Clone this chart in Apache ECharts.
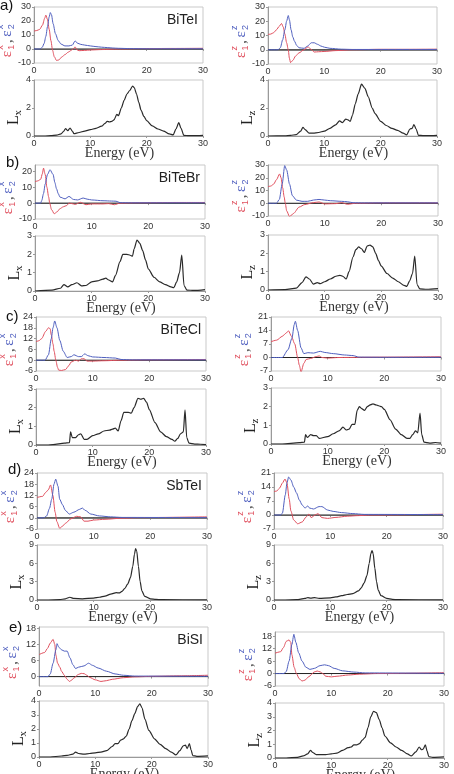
<!DOCTYPE html>
<html><head><meta charset="utf-8">
<script src="https://cdn.jsdelivr.net/npm/echarts@6/dist/echarts.min.js"></script>
<style>html,body{margin:0;padding:0;background:#fff}#c{width:454px;height:774px}</style>
</head><body><div id="c"></div>
<script>
// ---------------- DATA ----------------
const materials = ['BiTeI','BiTeBr','BiTeCl','SbTeI','BiSI'];
const rowLetters = ['a)','b)','c)','d)','e)'];
const energyTicks = [0,10,20,30];

const aX_e1 = [[0,12.8],[0.5,13.2],[1,14],[1.5,17],[1.9,22],[2.1,24.2],[2.4,21],[2.7,14],[3.0,6],[3.3,-1],[3.6,-5.5],[4.0,-8.2],[4.4,-7.8],[5.0,-5.5],[5.5,-4],[6.1,-2.2],[6.6,-1],[7.0,0.3],[7.3,1.5],[7.6,-0.5],[8,-1.2],[9,-1],[10,-0.7],[12,-0.4],[15,0],[20,0.3],[25,0.4],[30,0.5]];
const aX_e2 = [[0,0],[1,0],[1.2,0.3],[1.5,1.5],[1.8,4],[2.1,9],[2.4,16],[2.7,23],[2.9,26],[3.1,24.5],[3.4,18],[3.8,11],[4.3,6],[4.8,3.5],[5.5,2.2],[6.2,2.2],[6.8,2.8],[7.3,5.8],[7.7,4.2],[8.3,3.3],[9,2.8],[10,2.2],[11,1.7],[12,1.3],[13,1],[14,0.7],[15,0.5],[17,0.3],[20,0.2],[30,0.2]];
const aX_L = [[0,0],[2,0],[3,0.02],[4,0.06],[4.8,0.15],[5.3,0.35],[5.6,0.53],[6.0,0.38],[6.4,0.57],[6.8,0.35],[7.1,0.17],[8,0.25],[9,0.35],[10,0.45],[11,0.55],[12,0.7],[12.6,0.9],[13,1.05],[13.4,1.0],[13.8,1.05],[14.2,1.15],[14.7,1.55],[15,1.45],[15.5,2.0],[16,2.55],[16.5,3.0],[17,3.25],[17.5,3.57],[17.8,3.45],[18.2,3.0],[18.6,2.4],[19,1.85],[19.5,1.4],[20,1.1],[21,0.72],[22,0.5],[23,0.35],[24,0.15],[24.7,0.08],[25.2,0.5],[25.7,0.95],[26.1,0.55],[26.6,0.05],[27.5,0.02],[29,0.02],[30,0.05]];

const aZ_e1 = [[0,10.7],[0.5,11],[1,12],[1.5,14],[2,16.5],[2.4,18.4],[2.7,16],[3.0,11],[3.3,5],[3.6,0],[3.8,-6],[4.0,-9],[4.4,-7.5],[4.9,-4.4],[5.5,-2.2],[6.4,0],[7.1,2],[7.6,0.5],[8.2,-1.6],[9,-1.4],[10,-1.2],[12,-0.6],[15,0],[20,0.3],[25,0.3],[30,0.4]];
const aZ_e2 = [[0,0],[1.8,0],[2.2,1.5],[2.6,7],[3.0,14],[3.3,20],[3.6,24],[3.8,21],[4.1,14],[4.4,9],[4.7,6],[5.1,3],[5.5,1.4],[6.4,1],[7.0,2.5],[7.7,4.9],[8.2,4.9],[8.8,3.8],[9.4,2.6],[10,1.8],[11,1],[13,0.4],[15,0.2],[30,0.2]];
const aZ_L = [[0,0],[3,0.01],[4,0.04],[5,0.1],[5.8,0.35],[6.2,0.62],[6.6,0.45],[7.3,0.2],[8,0.2],[9,0.25],[10,0.35],[11,0.55],[12,0.8],[12.7,1.08],[13.2,0.95],[13.8,1.2],[14.2,1.15],[14.6,1.05],[15,1.5],[15.5,2.3],[16,3.0],[16.6,3.7],[17.2,3.4],[17.8,2.8],[18.5,2.0],[19,1.6],[20,1.05],[21,0.75],[22,0.55],[23,0.4],[24,0.2],[24.6,0.08],[25.2,0.5],[25.6,0.55],[25.9,0.82],[26.3,0.5],[26.7,0.05],[27.5,0.03],[29,0.03],[30,0.05]];

const bX_e1 = [[0,13.5],[0.5,14],[1,15],[1.3,18.5],[1.5,22],[1.8,18],[2.1,10],[2.4,4],[2.6,0],[2.9,-4],[3.4,-6.7],[3.9,-5.5],[4.4,-3.5],[5,-2.3],[5.6,-1.5],[6,0],[6.5,-0.3],[7.1,-0.8],[8,0.5],[9,-1],[10,-0.5],[12,-0.5],[13,-0.3],[14,-1],[15,0],[18,0.2],[25,0.4],[30,0.4]];
const bX_e2 = [[0,0],[1,0],[1.2,1.7],[1.5,6],[1.8,12],[2.2,18],[2.65,21],[3.2,18],[3.5,13],[3.8,9],[4.1,6],[4.4,3.8],[5.3,2.7],[6.0,4.2],[6.8,2.3],[7.5,2],[8.5,3.2],[9.2,2.5],[10,2],[12,1.5],[13.5,1.3],[14.3,1.2],[15,0.3],[17,0.2],[30,0.2]];
const bX_L = [[0,0],[3,0.05],[4.5,0.15],[5.1,0.35],[5.8,0.22],[6.5,0.35],[7.4,0.45],[8.2,0.28],[9,0.3],[10,0.5],[11,0.55],[12,0.65],[12.5,0.7],[13,0.6],[13.7,0.5],[14.2,0.85],[15,1.6],[15.5,2.0],[16.2,2.0],[16.8,1.95],[17.2,1.9],[17.5,2.3],[18,2.78],[18.5,2.6],[19,2.2],[19.5,1.7],[20,1.2],[21,0.75],[22,0.5],[23,0.35],[24,0.22],[24.5,0.18],[25,0.5],[25.5,1.0],[25.9,1.96],[26.3,0.3],[26.8,0.05],[28,0.03],[30,0.08]];

const bZ_e1 = [[0,13],[0.5,13.5],[1,15],[1.5,18.5],[2.05,23],[2.3,20],[2.6,12],[2.85,5],[3.05,0],[3.3,-6],[3.8,-10.5],[4.5,-8],[5.5,-3],[6.5,-1],[8,0.5],[9,1],[10,-0.5],[12,-0.3],[13,0.5],[14,-0.8],[15.5,0],[20,0.3],[30,0.3]];
const bZ_e2 = [[0,0],[1.5,0],[2,3],[2.5,15],[2.95,29.5],[3.3,26],[3.8,15],[4.3,6],[5,2.5],[6,1.5],[7,1.5],[8,2.5],[9,3],[10,2.5],[11,2],[13,1.5],[14,1.2],[15,0.4],[17,0.3],[30,0.3]];
const bZ_L = [[0,0],[3,0.02],[5,0.1],[6,0.4],[6.7,0.72],[7.3,0.6],[8,0.32],[8.7,0.4],[9.2,0.35],[10,0.45],[11,0.6],[12,0.75],[12.7,0.8],[13.2,0.75],[13.8,0.6],[14.3,1.0],[15,1.8],[15.5,2.2],[16,2.35],[16.5,2.25],[17,2.05],[17.5,2.4],[18,2.45],[18.5,2.35],[19,2.0],[19.5,1.6],[20,1.3],[21,0.9],[22,0.65],[23,0.45],[24,0.25],[24.5,0.2],[25,0.5],[25.5,0.9],[25.9,1.85],[26.3,0.3],[26.8,0.06],[28,0.04],[30,0.08]];

const cX_e1 = [[0,10.3],[0.5,10.8],[1,12],[1.7,16],[2.2,18],[2.5,17.5],[2.7,14],[3.0,9],[3.2,5],[3.5,0],[3.8,-4],[4.0,-5.5],[4.5,-5.7],[5.2,-5.2],[5.8,-3],[6.2,-1],[7,0],[7.5,-0.5],[8,0.8],[8.5,0.8],[9,-0.5],[10,-0.5],[12,-0.3],[15,0],[20,0.2],[30,0.4]];
const cX_e2 = [[0,0],[1.6,0],[2.2,3],[2.7,12],[3.0,18],[3.3,21.8],[3.7,18],[4.2,11],[4.8,5],[5.5,1.5],[6.2,2],[6.7,3],[7.5,2],[8,2],[8.6,3.5],[9.2,2.5],[10,1.8],[12,1.5],[14,1.2],[15,0.4],[17,0.2],[30,0.2]];
const cX_L = [[0,0],[2,0],[3,0.02],[5,0.1],[5.9,0.12],[6.1,0.7],[6.4,0.4],[7,0.4],[7.5,0.55],[7.9,0.6],[8.5,0.3],[9,0.3],[10,0.5],[11,0.6],[12,0.75],[13,0.8],[13.5,0.85],[14,0.9],[14.5,0.75],[15,1.3],[15.5,1.75],[16.3,1.75],[16.8,1.7],[17.3,2.0],[18,2.5],[18.5,2.45],[19,2.5],[19.5,2.3],[20,1.9],[21,1.2],[22,0.7],[23,0.45],[24,0.3],[24.5,0.2],[25,0.35],[25.5,0.6],[26,0.7],[26.3,1.88],[26.6,0.4],[27,0.1],[28,0.05],[29,0.04],[30,0.02]];

const cZ_e1 = [[0,8.2],[1,9],[2,11],[2.6,12.5],[3.1,13.8],[3.6,11],[4.2,7],[4.7,0],[5.0,-4],[5.3,-7.5],[5.8,-3],[6.2,-1],[7,-0.5],[8,0.5],[8.5,0.8],[9,0],[10,-0.3],[12,0],[20,0.2],[30,0.4]];
const cZ_e2 = [[0,0],[2,0],[3,4],[3.7,10],[4.1,17],[4.3,18.8],[4.7,14],[5.3,5],[5.8,2],[6.5,2.5],[7.5,2.3],[8.7,3.2],[9.5,2.6],[11,2],[13,1.3],[14.5,1],[15.5,0.2],[20,0.1],[30,0.1]];
const cZ_L = [[0,0],[2,0],[5,0.07],[5.9,0.1],[6.1,0.5],[6.4,0.35],[7,0.5],[7.5,0.45],[8,0.45],[8.5,0.3],[10,0.4],[11,0.55],[12,0.7],[12.7,0.9],[13.3,0.75],[13.8,0.8],[14.3,1.05],[14.8,1.05],[15.2,1.8],[15.6,2.0],[16,1.9],[16.5,1.8],[17,2.0],[17.5,2.1],[18,2.15],[18.5,2.1],[19,2.05],[19.5,2.0],[20,1.85],[21,1.3],[22,0.8],[23,0.5],[24,0.3],[24.5,0.3],[25,0.5],[25.5,0.7],[25.9,0.6],[26.3,1.65],[26.6,0.5],[27,0.1],[28,0.05],[29,0.08],[30,0.05]];

const dX_e1 = [[0,10.9],[1,11.5],[1.5,13.5],[2,15],[2.4,17.6],[2.8,12],[3.2,3],[3.5,-2],[4.0,-5.6],[4.5,-4.5],[5,-3],[6,-0.5],[7,0.8],[7.7,0.5],[8.3,-1.8],[9,-1.8],[10,-1.2],[12,-0.8],[15,-0.2],[18,0.1],[30,0.5]];
const dX_e2 = [[0,0],[1.2,0],[1.7,1],[2.2,5],[2.6,10],[3.0,18],[3.3,20.7],[3.7,17],[4.0,10],[4.5,7],[5.0,4],[5.7,2],[6.5,3],[7.5,4.5],[8,5.2],[8.5,4],[9.5,2],[11,1],[13,0.5],[15,0.2],[30,0.1]];
const dX_L = [[0,0],[2,0],[4,0.05],[5,0.2],[5.8,0.45],[6.5,0.25],[8,0.2],[10,0.3],[11,0.45],[12,0.65],[13,0.95],[14,1.2],[14.5,1.15],[15,1.4],[15.5,1.9],[16,2.6],[16.5,3.7],[16.9,5.5],[17.2,7.5],[17.4,8.4],[17.6,8.0],[17.9,5.5],[18.2,3],[18.5,1.5],[19,0.6],[20,0.2],[21,0.1],[22,0.05],[30,0.02]];

const dZ_e1 = [[0,11.7],[0.5,12],[1,13.5],[1.5,16],[1.95,18],[2.3,16],[2.7,8],[3.0,2],[3.5,-2.5],[4.2,-4.4],[5,-3.5],[5.7,-1],[6.2,0.5],[6.6,-1.3],[7.3,0],[7.8,0.7],[8.5,-1.3],[9.5,-1.7],[11,-1.2],[13,-0.6],[15,-0.3],[17,0],[30,0.4]];
const dZ_e2 = [[0,0],[1.2,0],[1.5,1],[2.0,10],[2.3,16],[2.6,19],[3,17.5],[3.5,14],[4,11],[4.5,7.5],[5,5],[5.5,3.5],[6,4.5],[6.3,3.5],[7,3],[8,4.2],[8.5,4.2],[9.5,2.5],[10.5,1.8],[12,1.2],[14,0.7],[16,0.3],[30,0.2]];
const dZ_L = [[0,0],[2,0],[4,0.05],[5.5,0.25],[6,0.4],[6.5,0.3],[7.2,0.4],[8,0.25],[10,0.35],[11,0.5],[12,0.7],[13,0.9],[14,1.05],[15,1.5],[15.5,2.0],[16,2.8],[16.5,4.0],[16.9,6.0],[17.2,7.6],[17.4,8.1],[17.6,7.6],[17.9,5.2],[18.2,3.0],[18.5,1.6],[19,0.7],[20,0.25],[21,0.1],[22,0.05],[30,0.02]];

const eX_e1 = [[0,8.2],[1,9],[1.5,10.5],[2,12.5],[2.5,13.9],[2.8,12],[3,8],[3.3,5],[3.7,3.5],[4,2],[4.5,0.5],[5,-1],[5.4,-1.8],[5.8,-1.3],[6.2,-0.5],[7,0.8],[7.5,1.2],[8,1.1],[8.5,0.5],[9,-0.3],[10,-1.2],[11,-1.8],[12,-1.5],[13,-1],[15,-0.4],[17,-0.1],[20,0.1],[25,0.3],[30,0.5]];
const eX_e2 = [[0,0],[1.6,0],[2,1],[2.5,5],[3,10],[3.2,12.3],[3.5,11],[4,10],[4.5,9.5],[5,9.5],[5.5,7],[6,4.5],[6.5,3],[7,3.5],[8,4],[8.8,5],[9.5,4.2],[10.5,3.2],[12,2],[13.5,1],[15,0.5],[17,0.2],[30,0.1]];
const eX_L = [[0,0],[2,0],[4,0.07],[5,0.12],[6,0.2],[6.5,0.35],[7,0.25],[8,0.2],[9,0.25],[10,0.3],[11,0.35],[12,0.45],[13,0.75],[13.5,0.95],[14,0.95],[14.5,1.2],[15,1.3],[15.5,1.5],[16,2.0],[16.5,2.6],[17,3.1],[17.5,3.6],[17.9,3.8],[18.3,3.5],[18.8,2.7],[19.5,1.9],[20.5,1.3],[21.5,0.9],[22.5,0.6],[23.5,0.35],[24.3,0.15],[25,0.45],[25.6,0.8],[26,0.85],[26.3,0.6],[26.7,0.95],[27,0.5],[27.3,0.1],[28,0.05],[30,0.08]];

const eZ_e1 = [[0,9.8],[1,10.5],[1.5,12.5],[2,15.5],[2.5,16.2],[2.8,15],[3,9],[3.4,3],[3.8,0],[4.3,-2.5],[4.8,-3.6],[5.3,-3.2],[6,-1.5],[7,0.8],[7.5,1.2],[8,0.8],[8.5,0],[9,-1.3],[10,-1.6],[11,-1.3],[13,-0.7],[15,-0.3],[18,0],[30,0.4]];
const eZ_e2 = [[0,0],[1.6,0],[2,1],[2.5,6],[3,14],[3.35,18.9],[3.7,15],[4.2,10],[4.8,6],[5.5,3],[6.2,2],[7,2.5],[8,3.8],[8.8,4.2],[9.5,3.8],[10.5,2.5],[12,1.3],[14,0.7],[16,0.3],[30,0.1]];
const eZ_L = [[0,0],[2,0],[4,0.05],[5,0.15],[5.8,0.3],[6.3,0.55],[6.7,0.4],[7.3,0.25],[9,0.25],[10,0.3],[11,0.35],[12,0.55],[13,0.75],[13.5,0.8],[14,0.95],[14.5,0.95],[15,1.05],[15.5,1.3],[16,1.5],[16.5,2.2],[17,3.0],[17.5,3.4],[18,3.3],[18.5,2.8],[19,2.2],[19.5,1.6],[20.5,1.1],[21.5,0.8],[22.5,0.55],[23.5,0.3],[24.2,0.15],[25,0.45],[25.6,0.8],[26,0.6],[26.3,0.65],[26.7,0.95],[27,0.5],[27.3,0.1],[28,0.05],[30,0.08]];

// axis ranges and tick labels per panel (order: aX, aZ, bX, bZ, cX, cZ, dX, dZ, eX, eZ)
const epsMin = [-10,-10,-10,-10,-6,-7,-6,-7,-3.5,-6];
const epsMax = [30,30,24,30,24,21,24,21,18.5,20];
const epsTicks = [[-10,0,10,20,30],[-10,0,10,20,30],[-10,0,10,20],[-10,0,10,20,30],[-6,0,6,12,18,24],[-7,0,7,14,21],[-6,0,6,12,18,24],[-7,0,7,14,21],[0,6,12,18],[-6,0,6,12,18]];
const lossMax = [4,4,3,3,3,3,9,9,4,4];
const lossTicks = [[0,2,4],[0,2,4],[0,1,2,3],[0,1,2,3],[0,1,2,3],[0,1,2,3],[0,3,6,9],[0,3,6,9],[0,1,2,3,4],[0,1,2,3,4]];

const eps1Data = [aX_e1,aZ_e1,bX_e1,bZ_e1,cX_e1,cZ_e1,dX_e1,dZ_e1,eX_e1,eZ_e1];
const eps2Data = [aX_e2,aZ_e2,bX_e2,bZ_e2,cX_e2,cZ_e2,dX_e2,dZ_e2,eX_e2,eZ_e2];
const lossData = [aX_L,aZ_L,bX_L,bZ_L,cX_L,cZ_L,dX_L,dZ_L,eX_L,eZ_L];
const comps = ['x','z'];

// ---------------- LAYOUT (px) ----------------
// [left, epsTop, epsHeight, lossTop, lossHeight, width]
const layout = [
  [34,7,56,80,56,169],
  [268,7,57,80,56,169],
  [35,165,54,236,55,170],
  [268,165,51,235,55,170],
  [36,317,54,389,56,170],
  [271,317,54,388,56,170],
  [37,473,56,545,55,170],
  [274,473,56,545,55,169],
  [39,627,59,701,56,169],
  [275,632,54,703,55,169]
];
const letterPos = [[0,6],[6,163],[6,317],[8,470],[9,628]];

const RED = '#e0505e', BLUE = '#4f5fbf', DARK = '#2a2a2a';
const SANS = 'Liberation Sans, Arial, sans-serif';
const SERIF = 'Liberation Serif, Times New Roman, serif';

const grids = [], xAxes = [], yAxes = [], series = [], graphics = [];

function addAxes(left, top, h, w, ymin, ymax, ticks) {
  const gi = grids.length;
  grids.push({left, top, width: w, height: h, show: true, borderColor: '#c9c9c9', borderWidth: 1, backgroundColor: 'transparent', containLabel: false, outerBoundsMode: 'none'});
  xAxes.push({type: 'value', gridIndex: gi, min: 0, max: 30, interval: 10,
    axisLine: {show: true, lineStyle: {color: '#9a9a9a', width: 1}},
    axisTick: {show: true, length: 2, lineStyle: {color: '#9a9a9a'}},
    axisLabel: {fontSize: 9, color: '#333', fontFamily: SANS, margin: 3, customValues: energyTicks},
    splitLine: {show: false}});
  yAxes.push({type: 'value', gridIndex: gi, min: ymin, max: ymax,
    axisLine: {show: true, onZero: false, lineStyle: {color: '#9a9a9a', width: 1}},
    axisTick: {show: true, length: 2, customValues: ticks, lineStyle: {color: '#9a9a9a'}},
    axisLabel: {fontSize: 9, color: '#333', fontFamily: SANS, margin: 3, customValues: ticks},
    splitLine: {show: false}});
  return gi;
}
function line(gi, data, color, width, smooth) {
  series.push({type: 'line', xAxisIndex: gi, yAxisIndex: gi, data, symbol: 'none', showSymbol: false,
    smooth: smooth, smoothMonotone: 'x', lineStyle: {color, width}, silent: true, animation: false, clip: true});
}
function txt(x, y, text, font, fill, align) {
  return {type: 'text', x, y, style: {text, font, fill, textAlign: align || 'left', textVerticalAlign: 'middle', align: align || 'left', verticalAlign: 'middle'}};
}

for (let p = 0; p < 10; p++) {
  const [left, eTop, eH, lTop, lH, w] = layout[p];
  const comp = comps[p % 2];
  const ge = addAxes(left, eTop, eH, w, epsMin[p], epsMax[p], epsTicks[p]);
  line(ge, [[0,0],[30,0]], '#222', 1, false);
  line(ge, eps1Data[p], RED, 1, 0.25);
  line(ge, eps2Data[p], BLUE, 1, 0.25);
  const gl = addAxes(left, lTop, lH, w, 0, lossMax[p], lossTicks[p]);
  line(gl, lossData[p], DARK, 1.2, 0.25);

  // epsilon axis label (rotated, reads bottom to top)
  const ecx = left - 27, ecy = eTop + eH * 0.56;
  graphics.push({type: 'group', x: ecx, y: ecy + 19, rotation: Math.PI / 2, silent: true, children: [
    txt(0, 0, 'ε', '15px ' + SERIF, RED),
    txt(7.5, 4.5, '1', '9px ' + SANS, RED),
    txt(7.5, -6.5, comp, '9px ' + SANS, RED),
    txt(14.5, 1.5, ',', 'bold 12px ' + SERIF, '#555'),
    txt(20.5, 0, 'ε', '15px ' + SERIF, BLUE),
    txt(28, 4.5, '2', '9px ' + SANS, BLUE),
    txt(28, -6.5, comp, '9px ' + SANS, BLUE)
  ]});
  // L axis label (rotated)
  const lcx = left - 20, lcy = lTop + lH / 2 + 9;
  graphics.push({type: 'group', x: lcx, y: lcy + 8, rotation: Math.PI / 2, silent: true, children: [
    txt(0, 0, 'L', '16px ' + SERIF, '#222'),
    txt(9.5, 4, comp, '11px ' + SERIF, '#222')
  ]});
  // Energy label
  const el = txt(left + w / 2 + 1, lTop + lH + 17, 'Energy (eV)', '14px ' + SERIF, '#333', 'center');
  el.silent = true;
  graphics.push(el);
  if (p % 2 === 0) {
    const r = p / 2;
    graphics.push(txt(left + w - 5, eTop + 13, materials[r], '14px ' + SANS, '#222', 'right'));
    graphics.push(txt(letterPos[r][0], letterPos[r][1], rowLetters[r], '15px ' + SANS, '#111', 'left'));
  }
}

const chart = echarts.init(document.getElementById('c'), null, {renderer: 'canvas'});
chart.setOption({
  animation: false,
  backgroundColor: '#fff',
  grid: grids, xAxis: xAxes, yAxis: yAxes, series, graphic: graphics
});
</script>
</body></html>
